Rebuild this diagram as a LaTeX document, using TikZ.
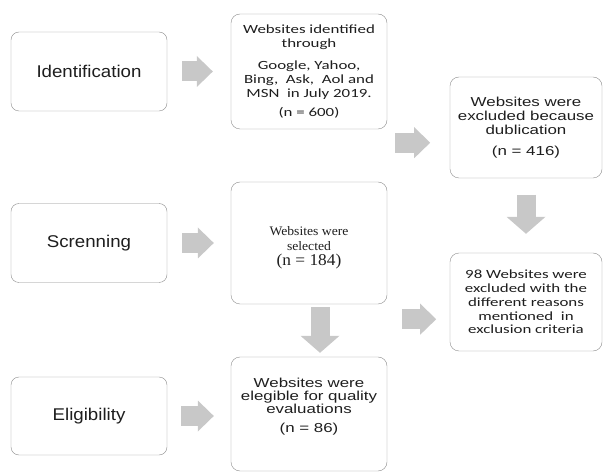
\documentclass[tikz,border=0pt]{standalone}
\usepackage{fontspec}
\usetikzlibrary{arrows.meta}
\newfontfamily\calfont[FakeStretch=1.35]{Carlito}
\newfontfamily\arifont[FakeStretch=1.3]{Liberation Sans}
\newfontfamily\lblfont[FakeStretch=1.1]{Liberation Sans}
\newfontfamily\tmsfont[FakeStretch=1.05]{Liberation Serif}
\definecolor{boxline}{RGB}{140,140,140}
\definecolor{arrfill}{RGB}{200,200,200}
\definecolor{txt}{RGB}{30,30,30}

\begin{document}
\begin{tikzpicture}[x=1pt,y=-1pt,
   stage/.style={draw=boxline, rounded corners=8pt, minimum width=156pt, minimum height=79pt,
      text=txt, font=\lblfont\fontsize{17}{20}\selectfont},
   infobox/.style={draw=boxline, rounded corners=9pt, align=center, text=txt, inner sep=0pt},
   rightarr/.style={draw=arrfill, line width=20pt, -{Triangle[length=16pt,width=31pt,line width=0pt]}},
   downarr/.style={draw=arrfill, line width=19pt, -{Triangle[length=17pt,width=39pt,line width=0pt]}}]
   \useasboundingbox (0,0) rectangle (603,473);

   % stages
   \node[stage] (ident) at (89,71.5) {Identification};
   \node[stage] (screen) at (89,243) {Screnning};
   \node[stage, minimum height=78pt] (elig) at (89,416) {Eligibility};

   % records
   \node[infobox, minimum width=156pt, minimum height=115pt, font=\calfont\fontsize{12.5}{14}\selectfont]
      (found) at (309,71.5) {Websites identified\\ through\\[8pt] Google, Yahoo,\\ Bing,~ Ask,~ Aol and\\ MSN~ in July 2019.\\[5pt] (n = 600)};
   \node[infobox, minimum width=152pt, minimum height=101pt, font=\arifont\fontsize{13}{14}\selectfont]
      (dupl) at (526,127.5) {Websites were\\ excluded because\\ dublication\\[7pt] (n = 416)};
   \node[infobox, minimum width=156pt, minimum height=122pt, font=\tmsfont\fontsize{13}{15}\selectfont]
      (sel) at (309,243) {\rule{0pt}{19pt}Websites were\\ selected\\ {\fontsize{16.5}{16}\selectfont (n = 184)}};
   \node[infobox, minimum width=152pt, minimum height=98pt, font=\calfont\fontsize{12.5}{13.75}\selectfont]
      (excl) at (526,302) {98 Websites were\\ excluded with the\\ different reasons\\ mentioned~ in\\ exclusion criteria};
   \node[infobox, minimum width=156pt, minimum height=114pt, font=\arifont\fontsize{13}{13}\selectfont]
      (eval) at (309,414) {Websites were\\ elegible for quality\\ evaluations\\[6pt] (n = 86)\rule[-18pt]{0pt}{0pt}};

   % block arrows
   \draw[rightarr] ([xshift=15pt]ident.east) -- ([xshift=-18pt]found.west |- ident.east);
   \draw[rightarr] ([xshift=15pt]screen.east) -- ([xshift=-17pt]sel.west |- screen.east);
   \draw[rightarr] ([xshift=14pt]elig.east) -- ([xshift=-17pt]eval.west |- elig.east);
   \draw[rightarr] ([xshift=8pt,yshift=-13.5pt]found.south east) -- ++(35,0);
   \draw[rightarr] ([xshift=15pt,yshift=-15pt]sel.south east) -- ++(34,0);
   \draw[downarr] ([yshift=-16.5pt]dupl.south) -- ([yshift=19pt]excl.north);
   \draw[downarr] ([xshift=11pt,yshift=-3pt]sel.south) -- ([xshift=11pt,yshift=4pt]eval.north);
\end{tikzpicture}
\end{document}
